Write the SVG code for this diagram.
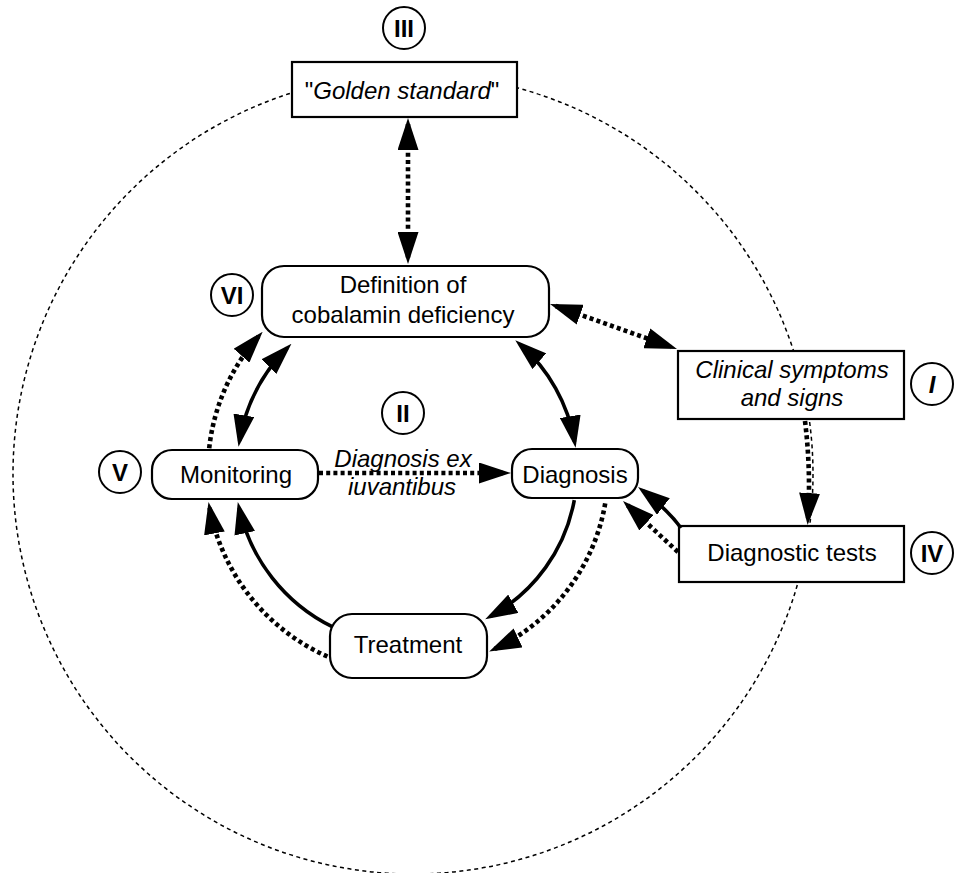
<svg xmlns="http://www.w3.org/2000/svg" width="954" height="873" viewBox="0 0 954 873">
<style>
  .bg { fill: #ffffff; }
  .ring { fill: none; stroke: #000; stroke-width: 1.5; stroke-dasharray: 4 3.5; }
  .box { fill: #ffffff; stroke: #000; stroke-width: 2.2; }
  .num { fill: #ffffff; stroke: #000; stroke-width: 2; }
  .t { font-family: "Liberation Sans", Arial, Helvetica, sans-serif; font-size: 24px; fill: #000; text-anchor: middle; }
  .it { font-style: italic; }
  .n { font-family: "Liberation Sans", Arial, Helvetica, sans-serif; font-size: 24px; font-weight: bold; fill: #000; text-anchor: middle; }
  .solid { fill: none; stroke: #000; stroke-width: 3.6; }
  .dot { fill: none; stroke: #000; stroke-width: 4.6; stroke-dasharray: 4 3.2; }
</style>
<defs>
  <marker id="ah" viewBox="0 0 32 21" refX="26" refY="10.5" markerWidth="32" markerHeight="21" markerUnits="userSpaceOnUse" orient="auto-start-reverse">
    <path d="M0,0 L32,10.5 L0,21 Z" fill="#000"/>
  </marker>
</defs>
<rect class="bg" x="0" y="0" width="954" height="873"/>

<circle id="outer-ring" class="ring" cx="413" cy="474" r="400"/>

<g id="nodes">
  <g id="node-golden">
    <rect class="box" x="292" y="62" width="225" height="55"/>
    <text class="t" x="402" y="99">"<tspan class="it">Golden standard</tspan>"</text>
  </g>
  <g id="node-definition">
    <rect class="box" x="262" y="266" width="287" height="71" rx="22" ry="22"/>
    <text class="t" x="403" y="293">Definition of</text>
    <text class="t" x="403" y="323">cobalamin deficiency</text>
  </g>
  <g id="node-clinical">
    <rect class="box" x="678" y="351" width="226" height="68"/>
    <text class="t it" x="792" y="378">Clinical symptoms</text>
    <text class="t it" x="792" y="406">and signs</text>
  </g>
  <g id="node-diagtests">
    <rect class="box" x="679" y="526" width="225" height="56"/>
    <text class="t" x="792" y="561">Diagnostic tests</text>
  </g>
  <g id="node-diagnosis">
    <rect class="box" x="512" y="449" width="126" height="49" rx="20" ry="20"/>
    <text class="t" x="575" y="483">Diagnosis</text>
  </g>
  <g id="node-monitoring">
    <rect class="box" x="152" y="450" width="166" height="49" rx="20" ry="20"/>
    <text class="t" x="236" y="483">Monitoring</text>
  </g>
  <g id="node-treatment">
    <rect class="box" x="330" y="614" width="157" height="64" rx="22" ry="22"/>
    <text class="t" x="408" y="653">Treatment</text>
  </g>
  <g id="label-III">
    <circle class="num" cx="404" cy="28" r="21"/>
    <text class="n" x="404" y="37">III</text>
  </g>
  <g id="label-VI">
    <circle class="num" cx="232" cy="295" r="21"/>
    <text class="n" x="232" y="304">VI</text>
  </g>
  <g id="label-II">
    <circle class="num" cx="403" cy="413" r="21"/>
    <text class="n" x="403" y="422">II</text>
  </g>
  <g id="label-I">
    <circle class="num" cx="932" cy="384" r="21"/>
    <text class="n it" x="932" y="393">I</text>
  </g>
  <g id="label-IV">
    <circle class="num" cx="932" cy="553" r="21"/>
    <text class="n" x="932" y="562">IV</text>
  </g>
  <g id="label-V">
    <circle class="num" cx="120" cy="472" r="21"/>
    <text class="n" x="120" y="481">V</text>
  </g>
</g>

<g id="connectors">
  <path class="dot" d="M408 124 L408 258" marker-start="url(#ah)" marker-end="url(#ah)"/>
  <path class="dot" d="M555.7 306 L671.3 347" marker-start="url(#ah)" marker-end="url(#ah)"/>
  <path class="dot" d="M805 421 Q811 470 808 519" marker-end="url(#ah)"/>
  <path class="solid" d="M681 528 Q668 510 642.8 490.6" marker-end="url(#ah)"/>
  <path class="dot" d="M678 552 L627.4 505.1" marker-end="url(#ah)"/>
  <path class="solid" d="M519.8 344.1 A167 167 0 0 1 574.6 441.9" marker-start="url(#ah)" marker-end="url(#ah)"/>
  <path class="solid" d="M574.3 500.1 A167 167 0 0 1 490.5 616.3" marker-end="url(#ah)"/>
  <path class="dot" d="M605.2 503.4 A198 198 0 0 1 494.6 649" marker-end="url(#ah)"/>
  <path class="solid" d="M332.2 626.7 A175 175 0 0 1 239.1 507.9" marker-end="url(#ah)"/>
  <path class="dot" d="M327.4 656.5 A204 204 0 0 1 209.6 507.9" marker-end="url(#ah)"/>
  <path class="dot" d="M319 473 L505 473" marker-end="url(#ah)"/>
  <path class="solid" d="M239.5 440.9 A173 173 0 0 1 287.2 348.1" marker-start="url(#ah)" marker-end="url(#ah)"/>
  <path class="dot" d="M209.2 448.2 A202 202 0 0 1 258.7 336.2" marker-end="url(#ah)"/>
  <text class="t it" x="403" y="467">Diagnosis ex</text>
  <text class="t it" x="402" y="495">iuvantibus</text>
</g>
</svg>
